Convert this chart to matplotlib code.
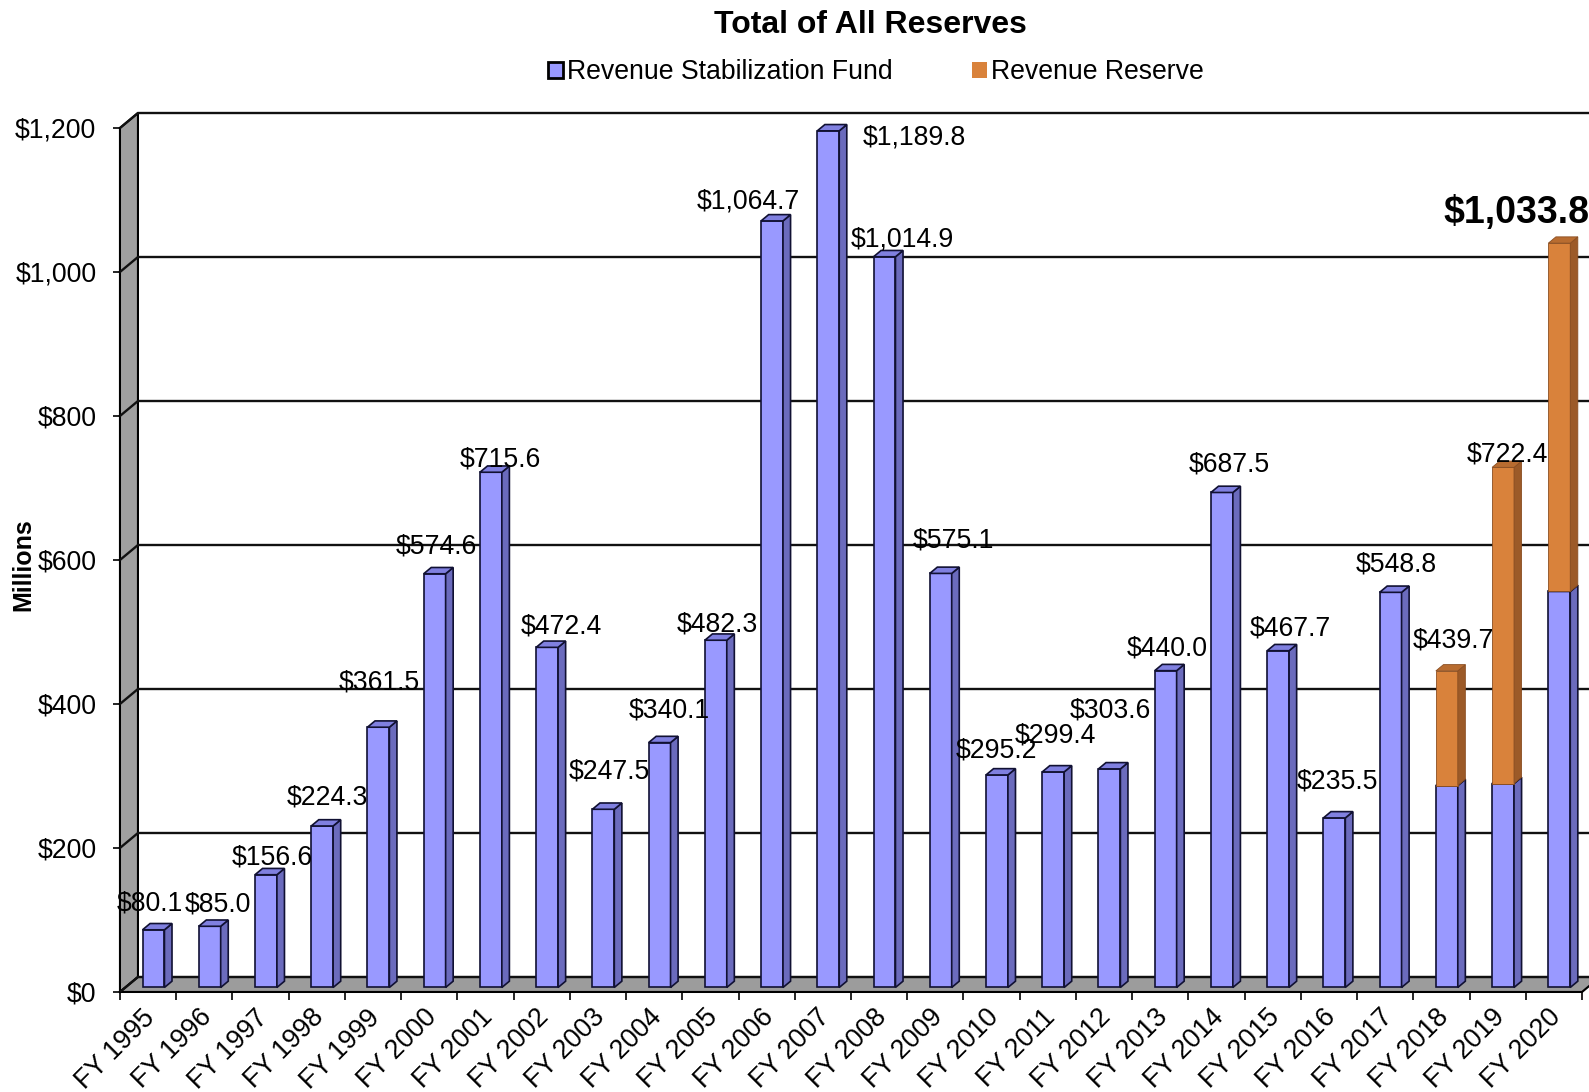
import matplotlib
matplotlib.use('Agg')
import matplotlib.pyplot as plt
import matplotlib.transforms as mtransforms
from matplotlib.patches import Polygon, Patch
from matplotlib.ticker import FuncFormatter

plt.rcParams['font.family'] = ['Liberation Sans', 'DejaVu Sans']

# data (millions)
years = ['FY 1995', 'FY 1996', 'FY 1997', 'FY 1998', 'FY 1999', 'FY 2000', 'FY 2001',
         'FY 2002', 'FY 2003', 'FY 2004', 'FY 2005', 'FY 2006', 'FY 2007', 'FY 2008',
         'FY 2009', 'FY 2010', 'FY 2011', 'FY 2012', 'FY 2013', 'FY 2014', 'FY 2015',
         'FY 2016', 'FY 2017', 'FY 2018', 'FY 2019', 'FY 2020']
stabilization = [80.1, 85.0, 156.6, 224.3, 361.5, 574.6, 715.6, 472.4, 247.5, 340.1,
                 482.3, 1064.7, 1189.8, 1014.9, 575.1, 295.2, 299.4, 303.6, 440.0, 687.5,
                 467.7, 235.5, 548.8, 280.5, 283.3, 550.0]
reserve = [0, 0, 0, 0, 0, 0, 0, 0, 0, 0, 0, 0, 0, 0, 0, 0, 0, 0, 0, 0,
           0, 0, 0, 159.2, 439.1, 483.8]
yticks = [0, 200, 400, 600, 800, 1000, 1200]

# where each value label sits relative to its bar top (pixels)
label_offsets = [(-4, 26), (8, 22), (6, 17), (5, 28), (1, 45), (2, 27), (9, 13),
                 (14, 21), (6, 38), (10, 32), (2, 16), (-24, 19), (86, -7), (18, 17),
                 (13, 33), (-1, 24), (2, 36), (1, 58), (2, 22), (7, 28), (12, 22),
                 (3, 36), (6, 28), (7, 30), (4, 13), (-43, 30)]

BLUE = ('#9999ff', '#6b6bbd', '#8080e0')
ORANGE = ('#d9823b', '#9c5a28', '#b86c30')

# fake 3d geometry (data units)
DX, DY = 0.32, 20.8      # depth of the whole plot box
T0, T1 = 0.3, 0.72       # front/back of the bars inside the box
W = 0.39
FS = 19.2

fig = plt.figure(figsize=(15.89, 10.92), dpi=100)
ax = fig.add_axes([0.0755, 0.0916, 0.9201, 0.7912])
n = len(years)
ax.set_xlim(-0.5, n - 0.5)
ax.set_ylim(0, 1200)
ax.patch.set_visible(False)
for sp in ax.spines.values():
    sp.set_visible(False)

x0, x1 = -0.5, n - 0.5
# left wall and floor
ax.add_patch(Polygon([(x0, 0), (x0 + DX, DY), (x0 + DX, 1200 + DY), (x0, 1200)],
                     closed=True, fc='#a0a0a0', ec='black', lw=1.5, zorder=1, clip_on=False))
ax.add_patch(Polygon([(x0, 0), (x1, 0), (x1 + DX, DY), (x0 + DX, DY)],
                     closed=True, fc='#9c9c9c', ec='black', lw=1.5, zorder=1, clip_on=False))
# gridlines on the back wall (and across the side wall)
for v in yticks:
    ax.plot([x0, x0 + DX, x1 + DX], [v, v + DY, v + DY], color='#111111', lw=1.7,
            zorder=1.5, clip_on=False, solid_joinstyle='miter')


def box(xc, y0, y1, colors, edge, lw):
    face, side, top = colors
    xl = xc - W / 2 + T0 * DX
    xr = xc + W / 2 + T0 * DX
    b0 = y0 + T0 * DY
    b1 = y1 + T0 * DY
    ddx = (T1 - T0) * DX
    ddy = (T1 - T0) * DY
    polys = [
        ([(xl, b0), (xr, b0), (xr, b1), (xl, b1)], face),
        ([(xr, b0), (xr + ddx, b0 + ddy), (xr + ddx, b1 + ddy), (xr, b1)], side),
        ([(xl, b1), (xr, b1), (xr + ddx, b1 + ddy), (xl + ddx, b1 + ddy)], top),
    ]
    for pts, c in polys:
        ax.add_patch(Polygon(pts, closed=True, fc=c, ec=edge, lw=lw, zorder=3,
                             clip_on=False, joinstyle='miter'))
    return (xl + xr) / 2, b1


for i in range(n):
    xc, top = box(i, 0, stabilization[i], BLUE, '#111133', 1.2)
    total = stabilization[i] + reserve[i]
    if reserve[i] > 0:
        xc, top = box(i, stabilization[i], total, ORANGE, '#8a4e22', 0.6)
    dx, dy = label_offsets[i]
    last = i == n - 1
    ax.annotate(f'${total:,.1f}', xy=(xc, top), xytext=(dx, dy),
                textcoords='offset pixels', ha='center', va='center',
                fontsize=27 if last else FS,
                fontweight='bold' if last else 'normal',
                zorder=6, annotation_clip=False)

# axes ticks
ax.set_yticks(yticks)
ax.yaxis.set_major_formatter(FuncFormatter(lambda v, p: f'${v:,.0f}'))
ax.tick_params(axis='y', length=5, width=1.2, pad=12, labelsize=FS)
ax.set_xticks(range(n))
ax.set_xticks([i - 0.5 for i in range(n + 1)], minor=True)
ax.set_xticklabels(years, rotation=45, ha='right', rotation_mode='anchor')
ax.tick_params(axis='x', which='major', length=0, pad=9, labelsize=FS)
ax.tick_params(axis='x', which='minor', length=6, width=1.2)
shift = mtransforms.ScaledTranslation(-6 / 100, 0, fig.dpi_scale_trans)
for lab in ax.get_xticklabels():
    lab.set_transform(lab.get_transform() + shift)

fig.text(0.0145, 1 - 565 / 1092, 'Millions', rotation=90, ha='center', va='center',
         fontsize=18, fontweight='bold')
fig.text(870 / 1589, 1 - 25 / 1092, 'Total of All Reserves', ha='center', va='center',
         fontsize=23, fontweight='bold')

handles = [Patch(fc=BLUE[0], ec='black', lw=2), Patch(fc=ORANGE[0], ec='none')]
fig.legend(handles, ['Revenue Stabilization Fund', 'Revenue Reserve'], ncol=2,
           loc='center', bbox_to_anchor=(0.5513, 1 - 72 / 1092), frameon=False,
           fontsize=19.2, handlelength=0.55, handleheight=0.55, handletextpad=0.15,
           columnspacing=3.0, borderaxespad=0)

fig.savefig('out.png', dpi=100)
